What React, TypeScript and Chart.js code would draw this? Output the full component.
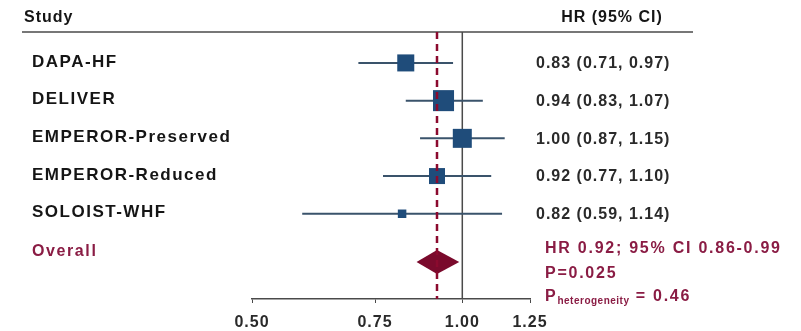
import React, { useEffect, useRef } from "react";
import { Chart, registerables } from "chart.js";
Chart.register(...registerables);

// ---- data ----
const studies = ["DAPA-HF", "DELIVER", "EMPEROR-Preserved", "EMPEROR-Reduced", "SOLOIST-WHF"];
const hr = [0.83, 0.94, 1.0, 0.92, 0.82];
const ciLow = [0.71, 0.83, 0.87, 0.77, 0.59];
const ciHigh = [0.97, 1.07, 1.15, 1.1, 1.14];
const weights = [20.4, 31.1, 25.4, 18.0, 5.1];
const overallHR = 0.92;
const overallLow = 0.86;
const overallHigh = 0.99;
const overallP = "0.025";
const heterogeneityP = "0.46";
const xTicks = [0.5, 0.75, 1.0, 1.25];
const nullValue = 1.0;
const overallLabelRow = 5;
const overallDiamondRow = 5.28;

const FONT = "'Liberation Sans', Arial, Helvetica, sans-serif";
const SQ_K = 3.77;

export default function App() {
  const ref = useRef<HTMLCanvasElement>(null);

  useEffect(() => {
    const canvas = ref.current;
    if (!canvas) return;

    const forestPlugin = {
      id: "forest",
      beforeDraw(chart: any) {
        chart.ctx.letterSpacing = "1px";
      },
      beforeDatasetsDraw(chart: any) {
        const { ctx, chartArea, scales } = chart;
        const x = scales.x;
        ctx.save();
        ctx.strokeStyle = "#4a4a4a";
        ctx.lineWidth = 1.5;
        ctx.beginPath();
        ctx.moveTo(22, chartArea.top);
        ctx.lineTo(693, chartArea.top);
        ctx.stroke();
        const x1 = x.getPixelForValue(nullValue);
        ctx.beginPath();
        ctx.moveTo(x1, chartArea.top);
        ctx.lineTo(x1, chartArea.bottom);
        ctx.stroke();
        ctx.restore();
      },
      afterDatasetsDraw(chart: any) {
        const { ctx, chartArea, scales } = chart;
        const x = scales.x;
        const y = scales.y;
        ctx.save();
        // diamond
        const xl = x.getPixelForValue(overallLow);
        const xc = x.getPixelForValue(overallHR);
        const xr = x.getPixelForValue(overallHigh);
        const yc = y.getPixelForValue(overallDiamondRow);
        const h = 12;
        ctx.fillStyle = "#7a0a2c";
        ctx.beginPath();
        ctx.moveTo(xl, yc);
        ctx.lineTo(xc, yc - h);
        ctx.lineTo(xr, yc);
        ctx.lineTo(xc, yc + h);
        ctx.closePath();
        ctx.fill();
        // dashed overall line
        ctx.strokeStyle = "#8b0a2e";
        ctx.lineWidth = 2.5;
        ctx.setLineDash([7, 5]);
        ctx.beginPath();
        ctx.moveTo(xc, chartArea.top);
        ctx.lineTo(xc, chartArea.bottom);
        ctx.stroke();
        ctx.setLineDash([]);

        // texts
        ctx.textBaseline = "middle";
        ctx.fillStyle = "#151515";
        ctx.letterSpacing = "1px";
        ctx.font = `bold 16px ${FONT}`;
        ctx.textAlign = "left";
        ctx.fillText("Study", 24, 18);
        ctx.textAlign = "center";
        ctx.fillText("HR (95% CI)", 612, 18);

        ctx.textAlign = "left";
        ctx.font = `bold 17px ${FONT}`;
        ctx.letterSpacing = "1.5px";
        studies.forEach((s, i) => {
          ctx.fillText(s, 32, y.getPixelForValue(i) - 1);
        });
        ctx.font = `bold 16px ${FONT}`;
        ctx.letterSpacing = "1px";
        ctx.fillStyle = "#2a2a2a";
        studies.forEach((_, i) => {
          const t = `${hr[i].toFixed(2)} (${ciLow[i].toFixed(2)}, ${ciHigh[i].toFixed(2)})`;
          ctx.fillText(t, 536, y.getPixelForValue(i) + 1);
        });

        // overall
        const red = "#8a1c44";
        ctx.fillStyle = red;
        ctx.font = `bold 16px ${FONT}`;
        ctx.letterSpacing = "1.6px";
        const base = y.getPixelForValue(overallLabelRow);
        ctx.fillText("Overall", 32, base);
        ctx.letterSpacing = "1.75px";
        ctx.fillText(
          `HR ${overallHR.toFixed(2)}; 95% CI ${overallLow.toFixed(2)}-${overallHigh.toFixed(2)}`,
          545,
          base - 3
        );
        ctx.fillText(`P=${overallP}`, 545, base + 22);
        const py = base + 45;
        ctx.fillText("P", 545, py);
        let px = 545 + ctx.measureText("P").width;
        ctx.font = `bold 10px ${FONT}`;
        ctx.letterSpacing = "0.5px";
        ctx.fillText("heterogeneity", px, py + 5);
        px += ctx.measureText("heterogeneity").width;
        ctx.font = `bold 16px ${FONT}`;
        ctx.letterSpacing = "1.75px";
        ctx.fillText(` = ${heterogeneityP}`, px, py);
        ctx.restore();
      },
      afterDraw(chart: any) {
        chart.ctx.letterSpacing = "0px";
      },
    };

    const ciDatasets = studies.map((s, i) => ({
      type: "scatter" as const,
      label: s + " CI",
      data: [
        { x: ciLow[i], y: i },
        { x: ciHigh[i], y: i },
      ],
      showLine: true,
      borderColor: "#3a536b",
      borderWidth: 2,
      pointRadius: 0,
      order: 2,
    }));

    const chart = new Chart(canvas, {
      type: "scatter",
      data: {
        datasets: [
          {
            label: "HR",
            data: studies.map((_, i) => ({ x: hr[i], y: i })),
            pointStyle: "rect",
            pointRadius: weights.map((w) => (SQ_K * Math.sqrt(w)) / Math.SQRT2),
            pointHoverRadius: weights.map((w) => (SQ_K * Math.sqrt(w)) / Math.SQRT2),
            backgroundColor: "#1f4c7a",
            borderWidth: 0,
            order: 0,
          },
          ...ciDatasets,
        ] as any,
      },
      options: {
        animation: false,
        responsive: false,
        devicePixelRatio: 1,
        layout: { padding: { left: 252, right: 271, top: 32, bottom: 0 } },
        plugins: { legend: { display: false }, tooltip: { enabled: false } },
        scales: {
          x: {
            type: "logarithmic",
            min: 0.5,
            max: 1.25,
            afterBuildTicks: (scale: any) => {
              scale.ticks = xTicks.map((v) => ({ value: v }));
            },
            afterFit: (scale: any) => {
              scale.height = 32;
            },
            ticks: {
              callback: (v: any) => Number(v).toFixed(2),
              font: { family: FONT, size: 16, weight: "bold" },
              color: "#2a2a2a",
              padding: 10,
              autoSkip: false,
              maxRotation: 0,
            },
            grid: { drawOnChartArea: false, drawTicks: true, tickLength: 4, color: "#4a4a4a" },
            border: { display: true, color: "#4a4a4a", width: 1.5 },
          },
          y: {
            type: "linear",
            reverse: true,
            min: -0.82,
            max: 6.26,
            display: false,
          },
        },
      } as any,
      plugins: [forestPlugin],
    });

    return () => chart.destroy();
  }, []);

  return (
    <div style={{ position: "absolute", left: 0, top: 0, width: 801, height: 331, background: "#fff" }}>
      <canvas ref={ref} width={801} height={331} style={{ display: "block" }} />
    </div>
  );
}
